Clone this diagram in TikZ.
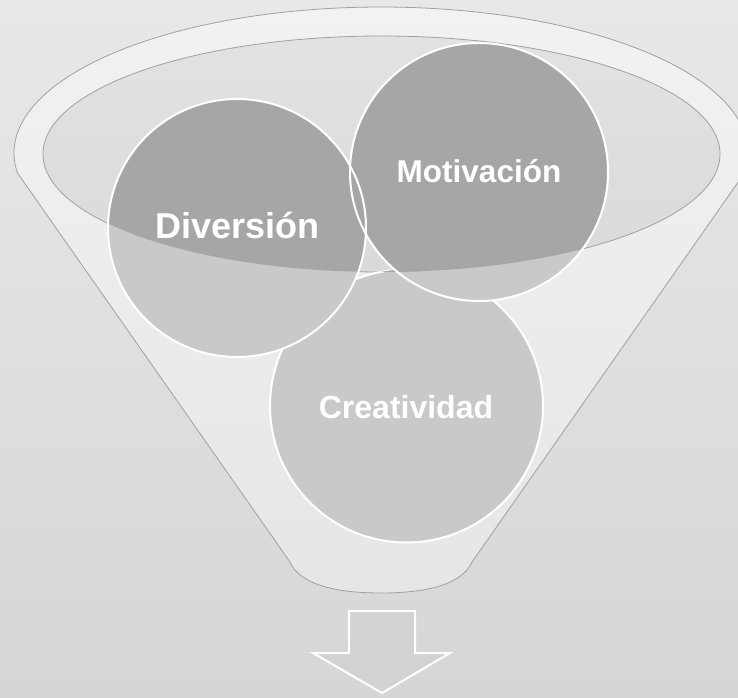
\documentclass[tikz,border=0pt]{standalone}
\usepackage{fontspec}
\setmainfont{Liberation Sans}
\definecolor{bgtop}{HTML}{E8E8E8}
\definecolor{bgbot}{HTML}{D6D6D6}
\definecolor{rimtop}{HTML}{F2F2F2}
\definecolor{rimbot}{HTML}{E6E6E6}
\definecolor{inntop}{HTML}{E2E2E2}
\definecolor{innbot}{HTML}{DADADA}
\definecolor{circlight}{HTML}{C9C9C9}
\definecolor{circdark}{HTML}{A6A6A6}
\definecolor{edgegray}{HTML}{A0A0A0}
\definecolor{arrowfill}{HTML}{D2D2D2}
\begin{document}
\begin{tikzpicture}[x=1pt,y=1pt,
  funnelrim/.style={draw=edgegray, line width=0.8pt, top color=rimtop, bottom color=rimbot},
  innerell/.style={draw=edgegray, line width=0.8pt, top color=inntop, bottom color=innbot},
  bubble/.style={circle, inner sep=0pt, outer sep=0pt, fill=circlight},
  bubbleedge/.style={draw=white, line width=2pt},
  label/.style={text=white, font=\bfseries, inner sep=0pt, anchor=base},
  downarrow/.style={draw=white, line width=2pt, fill=arrowfill, line join=miter}]
\useasboundingbox (0,0) rectangle (738,697);
\clip (0,0) rectangle (738,697);
\shade[top color=bgtop, bottom color=bgbot] (0,0) rectangle (738,697);
% funnel body
\path[funnelrim] (17.5,524) arc[start angle=187.87, end angle=-7.87, x radius=367, y radius=146]
  -- (472,135) .. controls (462,112) and (425,104) .. (381,104)
  .. controls (337,104) and (300,112) .. (290,135) -- cycle;
% inner ellipse
\path[innerell] (381.5,543) ellipse[x radius=338.5, y radius=118];
% circles
\node[bubble, minimum size=273pt] (cre) at (406.5,291) {};
\draw[bubbleedge] (cre.center) circle[radius=136.5];
\node[bubble, minimum size=258pt] (div) at (237,469) {};
\node[bubble, minimum size=258pt] (mot) at (479,525) {};
\begin{scope}
  \clip (381.5,543) ellipse[x radius=338.5, y radius=118];
  \fill[circdark] (div.center) circle[radius=129];
  \fill[circdark] (mot.center) circle[radius=129];
  \fill[circdark] (cre.center) circle[radius=136.5];
\end{scope}
\draw[bubbleedge] (div.center) circle[radius=129];
\draw[bubbleedge] (mot.center) circle[radius=129];
% labels
\node[label, font=\bfseries\fontsize{36}{40}\selectfont] (tdiv) at (237.5,458) {Diversión};
\node[label, font=\bfseries\fontsize{31.5}{36}\selectfont] (tmot) at (479,514) {Motivación};
\node[label, font=\bfseries\fontsize{32}{36}\selectfont] (tcre) at (406,279) {Creatividad};
% arrow
\path[downarrow] (349,86) -- (415,86) -- (415,44) -- (450,44) -- (382,4) -- (313,44) -- (349,44) -- cycle;
\end{tikzpicture}
\end{document}
